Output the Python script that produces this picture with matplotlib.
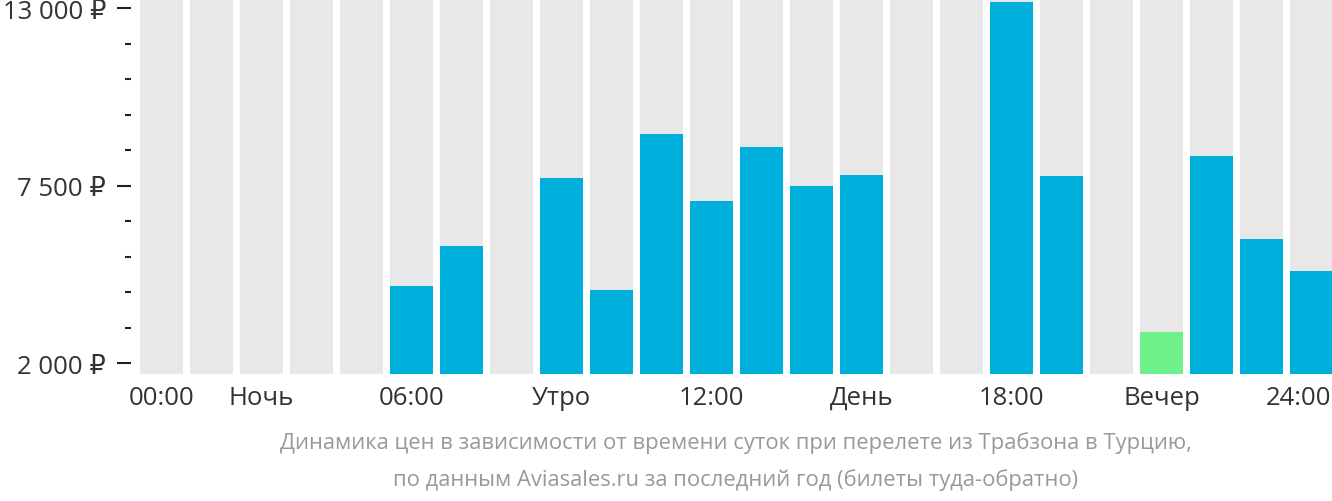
import numpy as np
import matplotlib.pyplot as plt
from matplotlib.ticker import FixedLocator, FuncFormatter
from matplotlib.transforms import ScaledTranslation

plt.rcParams['font.family'] = ['Open Sans', 'DejaVu Sans']

hours = list(range(24))
# price per hour of departure, None = no data
prices = [None, None, None, None, None, 4400, 5630, None, 7730, 4260,
          9100, 7020, 8690, 7485, 7830, None, None, 13190, 7800, None,
          2960, 8415, 5840, 4850]
cheapest_hour = 20
xlabels = ['00:00', 'Ночь', '06:00', 'Утро', '12:00', 'День', '18:00', 'Вечер', '24:00']
xlabel_pos = [0, 2, 5, 8, 11, 14, 17, 20, 23]
major_ticks = [2000, 7500, 13000]
minor_ticks = [3100, 4200, 5300, 6400, 8600, 9700, 10800, 11900]

blue = '#00b0dc'
green = '#6ef08a'
grey = '#e8e8e8'

fig = plt.figure(figsize=(13.32, 5.02), dpi=100)
ax = fig.add_axes([131/1332, 1 - 374.5/502, (1332-131)/1332, 374.5/502])

ymin, ymax = 1675, 13280
w = 0.86
ax.bar(hours, [ymax - ymin]*24, bottom=ymin, width=w, color=grey, zorder=1)
for h, p in zip(hours, prices):
    if p is None:
        continue
    c = green if h == cheapest_hour else blue
    ax.bar(h, p - ymin, bottom=ymin, width=w, color=c, zorder=2)

ax.set_xlim(-0.61, 23.41)
ax.set_ylim(ymin, ymax)
for s in ax.spines.values():
    s.set_visible(False)

ax.yaxis.set_major_locator(FixedLocator(major_ticks))
ax.yaxis.set_minor_locator(FixedLocator(minor_ticks))
ax.yaxis.set_major_formatter(FuncFormatter(lambda v, p: f'{int(v):,}'.replace(',', ' ') + ' ₽'))
ax.tick_params(axis='y', which='major', length=10, width=1.5, color='#222222',
               labelsize=18.5, labelcolor='#333333', pad=8)
ax.tick_params(axis='y', which='minor', length=4.3, width=1.5, color='#222222')

ax.set_xticks(xlabel_pos)
ax.set_xticklabels(xlabels)
ax.tick_params(axis='x', length=0, labelsize=18.5, labelcolor='#333333', pad=8)
# last label is pulled in so it fits inside the figure
last = ax.get_xticklabels()[-1]
last.set_transform(last.get_transform() + ScaledTranslation(-0.13, 0, fig.dpi_scale_trans))

fig.text(736/1332, 1 - 443/502, 'Динамика цен в зависимости от времени суток при перелете из Трабзона в Турцию,',
         ha='center', va='center', fontsize=15.8, color='#999999')
fig.text(736/1332, 1 - 480/502, 'по данным Aviasales.ru за последний год (билеты туда-обратно)',
         ha='center', va='center', fontsize=15.8, color='#999999')

fig.savefig('out.png', dpi=100)
